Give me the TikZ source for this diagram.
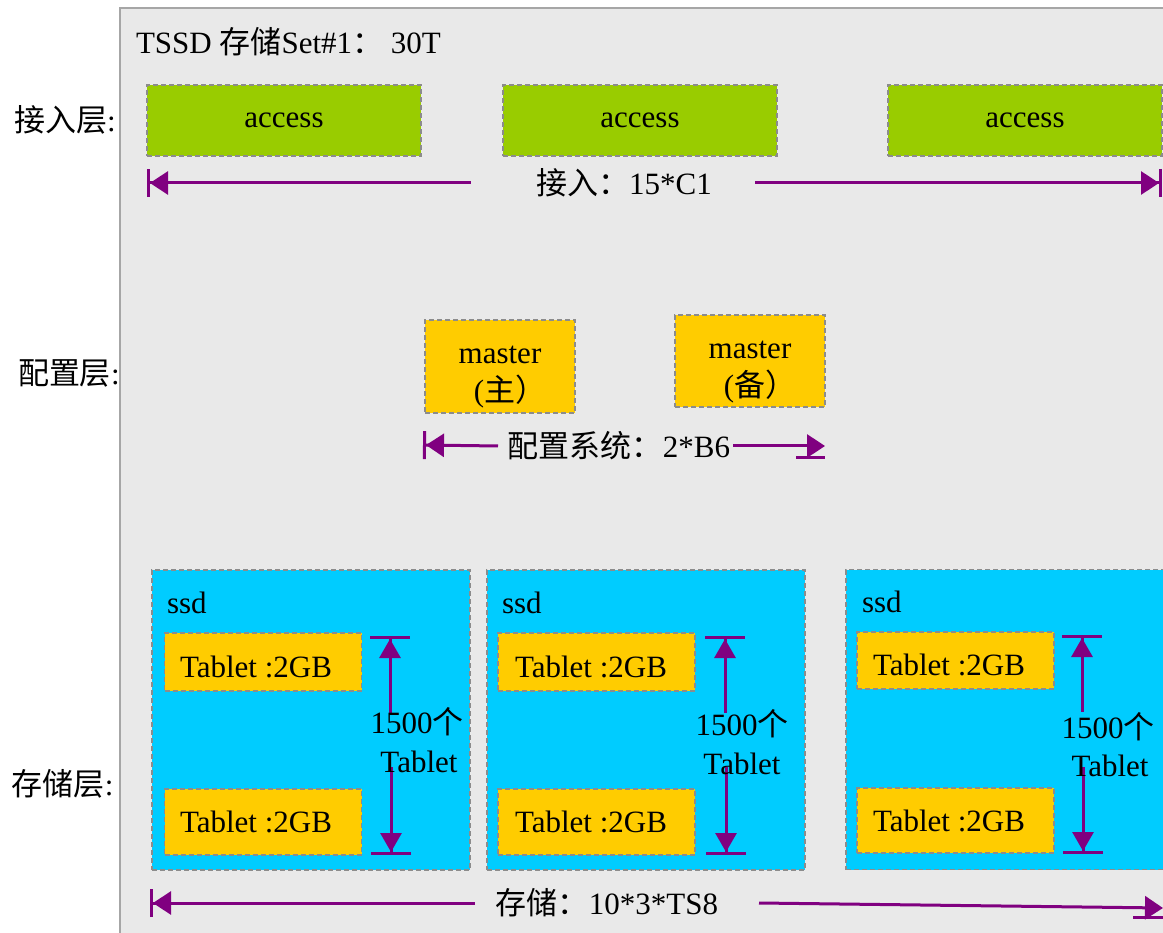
\documentclass[tikz,border=0pt]{standalone}
\usepackage{fontspec}
\setmainfont{Liberation Serif}
\newfontfamily\cjkfont{Noto Sans CJK SC}
\newcommand\zh[1]{{\cjkfont #1}}
\usetikzlibrary{arrows.meta}
\definecolor{panelbg}{HTML}{E9E9E9}
\definecolor{panelline}{HTML}{A6A6A6}
\definecolor{dashgray}{HTML}{8C8C8C}
\definecolor{accessgreen}{HTML}{99CC00}
\definecolor{mastergold}{HTML}{FFCC00}
\definecolor{ssdcyan}{HTML}{00CCFF}
\definecolor{dimpurple}{HTML}{800080}
\begin{document}
\begin{tikzpicture}[x=1pt,y=-1pt,
  every node/.style={font=\fontsize{31}{36}\selectfont, inner sep=0pt, outer sep=0pt},
  box/.style={draw=dashgray, line width=1.2pt, dash pattern=on 5pt off 3pt},
  accessbox/.style={box, fill=accessgreen, minimum width=274pt, minimum height=71pt},
  masterbox/.style={box, fill=mastergold, minimum width=150pt, minimum height=93pt},
  ssdbox/.style={box, fill=ssdcyan, minimum width=318pt, minimum height=300pt},
  tabletbox/.style={box, fill=mastergold, minimum width=197pt},
  dimline/.style={draw=dimpurple, line width=3pt},
  ldim/.style={dimline, {Bar[width=28pt,sep=0pt]Triangle[length=18pt,width=23pt,sep=0pt]}-},
  rdim/.style={dimline, -{Triangle[length=18pt,width=23pt,sep=0pt]Bar[width=28pt,sep=0pt]}},
  rtri/.style={dimline, -{Triangle[length=18pt,width=23pt]}},
  vup/.style={dimline, {Bar[width=40pt,sep=0pt]Triangle[length=19pt,width=21pt,sep=0pt]}-},
  vdown/.style={dimline, -{Triangle[length=19pt,width=21pt,sep=0pt]Bar[width=40pt,sep=0pt]}}
]
\useasboundingbox (0,0) rectangle (1163,933);
\clip (0,0) rectangle (1163,933);
\fill[white] (0,0) rectangle (1163,933);
\fill[panelbg] (120,8) rectangle (1200,960);
\draw[panelline, line width=1.5pt] (120,960) -- (120,8) -- (1200,8);

% title and layer labels
\node[anchor=base west] (title) at (136,54) {TSSD \zh{存储}Set\#1\zh{：} 30T};
\node[anchor=base west] (lblaccess) at (14,132) {\zh{接入层}:};
\node[anchor=base west] (lblconfig) at (18,385) {\zh{配置层}:};
\node[anchor=base west] (lblstore) at (12,795) {\zh{存储层}:};

% access layer
\node[accessbox] (acc1) at (284,120.5) {access};
\node[accessbox] (acc2) at (640,120.5) {access};
\node[accessbox] (acc3) at (1025,120.5) {access};
\coordinate (accL) at (147,183);
\coordinate (accLi) at (471,183);
\coordinate (accRi) at (755,183);
\coordinate (accR) at (1162,183);
\node (acclabel) at (624,183) {\zh{接入：}15*C1};
\draw[ldim] (accL) -- (accLi);
\draw[rdim] (accRi) -- (accR);

% config layer
\node[masterbox] (m1) at (500,366.5) {};
\node[anchor=base] (m1a) at (500,364) {master};
\node[anchor=base] (m1b) at (510,402) {(\zh{主）}};
\node[masterbox, minimum height=92pt] (m2) at (750,361) {};
\node[anchor=base] (m2a) at (750,359) {master};
\node[anchor=base] (m2b) at (760,397) {(\zh{备）}};
\coordinate (cfgL) at (423,445);
\coordinate (cfgLi) at (498,446);
\coordinate (cfgRi) at (733,446);
\coordinate (cfgR) at (825,446);
\coordinate (cfgBarL) at (796,458);
\coordinate (cfgBarR) at (825,458);
\node (cfglabel) at (619,446) {\zh{配置系统：}2*B6};
\draw[ldim] (cfgL) -- (cfgLi);
\draw[rtri] (cfgRi) -- (cfgR);
\draw[dimline] (cfgBarL) -- (cfgBarR);

% storage layer, box 1
\node[ssdbox] (ssd1) at (311,720) {};
\node[anchor=base west] (ssd1t) at (167,613) {ssd};
\node[tabletbox, minimum height=58pt] (t1a) at (263,662) {};
\node[anchor=base west] (t1at) at (180,677) {Tablet :2GB};
\node[tabletbox, minimum height=66pt] (t1b) at (263,822) {};
\node[anchor=base west] (t1bt) at (180,832) {Tablet :2GB};
\coordinate (d1top) at (390,636);
\coordinate (d1topi) at (390,713);
\coordinate (d1boti) at (391,767);
\coordinate (d1bot) at (391,855);
\draw[vup] (d1top) -- (d1topi);
\draw[vdown] (d1boti) -- (d1bot);
\node[anchor=base] (n1a) at (417,733) {1500\zh{个}};
\node[anchor=base] (n1b) at (419,772) {Tablet};

% storage layer, box 2
\node[ssdbox] (ssd2) at (646,720) {};
\node[anchor=base west] (ssd2t) at (502,613) {ssd};
\node[tabletbox, minimum height=58pt] (t2a) at (596.5,662) {};
\node[anchor=base west] (t2at) at (515,677) {Tablet :2GB};
\node[tabletbox, minimum height=66pt] (t2b) at (596.5,822) {};
\node[anchor=base west] (t2bt) at (515,832) {Tablet :2GB};
\coordinate (d2top) at (725,636);
\coordinate (d2topi) at (725,713);
\coordinate (d2boti) at (726,767);
\coordinate (d2bot) at (726,855);
\draw[vup] (d2top) -- (d2topi);
\draw[vdown] (d2boti) -- (d2bot);
\node[anchor=base] (n2a) at (742,735) {1500\zh{个}};
\node[anchor=base] (n2b) at (742,774) {Tablet};

% storage layer, box 3
\node[ssdbox] (ssd3) at (1005,719.5) {};
\node[anchor=base west] (ssd3t) at (862,612) {ssd};
\node[tabletbox, minimum height=57pt] (t3a) at (955.5,660.5) {};
\node[anchor=base west] (t3at) at (873,675) {Tablet :2GB};
\node[tabletbox, minimum height=65pt] (t3b) at (955.5,820.5) {};
\node[anchor=base west] (t3bt) at (873,831) {Tablet :2GB};
\coordinate (d3top) at (1082,635);
\coordinate (d3topi) at (1082,712);
\coordinate (d3boti) at (1083,767);
\coordinate (d3bot) at (1083,854);
\draw[vup] (d3top) -- (d3topi);
\draw[vdown] (d3boti) -- (d3bot);
\node[anchor=base] (n3a) at (1108,738) {1500\zh{个}};
\node[anchor=base] (n3b) at (1110,776) {Tablet};

% storage dimension
\coordinate (stL) at (150,903);
\coordinate (stLi) at (475,903);
\coordinate (stRi) at (759,903);
\coordinate (stR) at (1163,908);
\coordinate (stBarL) at (1133,917);
\coordinate (stBarR) at (1163,917);
\node (stlabel) at (607,903) {\zh{存储：}10*3*TS8};
\draw[ldim] (stL) -- (stLi);
\draw[rtri] (stRi) -- (stR);
\draw[dimline] (stBarL) -- (stBarR);
\end{tikzpicture}
\end{document}
